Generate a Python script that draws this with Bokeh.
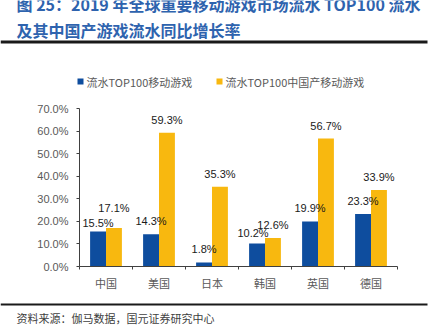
from bokeh.plotting import figure
from bokeh.layouts import column, row
from bokeh.models import (FixedTicker, NumeralTickFormatter, Range1d, Label,
                          BoxAnnotation, ColumnDataSource)
from bokeh.embed import file_html
from bokeh.resources import INLINE
from bokeh.core.properties import value

# ---- data ----
categories = ["中国", "美国", "日本", "韩国", "英国", "德国"]
top100_growth = [0.155, 0.143, 0.018, 0.102, 0.199, 0.233]
china_made_growth = [0.171, 0.593, 0.353, 0.126, 0.567, 0.339]
series_names = ["流水TOP100移动游戏", "流水TOP100中国产移动游戏"]
y_ticks = [0.0, 0.1, 0.2, 0.3, 0.4, 0.5, 0.6, 0.7]
title_lines = ["图 25：2019 年全球重要移动游戏市场流水 TOP100 流水",
               "及其中国产游戏流水同比增长率"]
source_note = "资料来源：伽马数据，国元证券研究中心"

# label offsets (styling)
blue_yoff = [-9, -13, -13, -10, -14, -13]
blue_xoff = [0, 0, 0, -4, 0, 0]
yel_yoff = [-20, -13, -13, -13, -13, -13]

BLUE = "#0E4D9E"
YELLOW = "#F8B80F"
GRAY = "#595959"
TITLE_BLUE = "#2E63AE"
RULE = "#1a1a1a"
CJK = "Noto Sans CJK SC"
LAT = "Liberation Sans"

W = 432
FL, FR = 79, 35
TOP_H, MAIN_H, BOT_H = 98, 198, 31


def plain_fig(h):
    # whole canvas is the frame; data x/y == canvas px (y downwards)
    f = figure(width=W, height=h, output_backend="svg", toolbar_location=None,
               x_range=Range1d(0, W), y_range=Range1d(h, 0),
               x_axis_location=None, y_axis_location=None,
               min_border_left=0, min_border_right=0,
               min_border_top=0, min_border_bottom=0)
    f.outline_line_color = None
    f.grid.visible = False
    f.background_fill_color = "white"
    f.border_fill_color = "white"
    return f


# ---------------- header ----------------
top = plain_fig(TOP_H)
for txt, cy in [(title_lines[0], 3), (title_lines[1], 29)]:
    top.add_layout(Label(x=16, y=cy, text=txt, text_font=CJK,
                         text_font_size="16px", text_font_style="bold",
                         text_color=TITLE_BLUE, text_baseline="middle"))
top.add_layout(BoxAnnotation(left=0, right=427, top=40, bottom=43,
                             fill_color=RULE, fill_alpha=1, line_color=None))
for name, col, lx in [(series_names[0], BLUE, 77), (series_names[1], YELLOW, 216)]:
    top.add_layout(BoxAnnotation(left=lx, right=lx + 6, top=78, bottom=84,
                                 fill_color=col, fill_alpha=1, line_color=None))
    top.add_layout(Label(x=lx + 9, y=81, text=name, text_font=CJK,
                         text_font_size="11px", text_color=GRAY,
                         text_baseline="middle"))

# ---------------- main chart ----------------
p = figure(width=W, height=MAIN_H, output_backend="svg", toolbar_location=None,
           x_range=Range1d(0, len(categories)), y_range=Range1d(0, 0.7),
           min_border_left=FL, min_border_right=FR, min_border_top=10,
           min_border_bottom=30)
p.outline_line_color = None
p.xgrid.visible = False
p.ygrid.visible = False
p.background_fill_color = "white"
p.border_fill_color = "white"

centers = [i + 0.5 for i in range(len(categories))]
bw = 0.30
src = ColumnDataSource(dict(
    xb=[c - bw / 2 for c in centers],
    xy=[c + bw / 2 for c in centers],
    b=top100_growth, yv=china_made_growth,
    bt=[f"{v * 100:.1f}%" for v in top100_growth],
    yt=[f"{v * 100:.1f}%" for v in china_made_growth],
    byo=blue_yoff, bxo=blue_xoff, yyo=yel_yoff,
))

p.vbar(x="xb", top="b", width=bw, bottom=0, source=src,
       fill_color=BLUE, line_color=None)
p.vbar(x="xy", top="yv", width=bw, bottom=0, source=src,
       fill_color=YELLOW, line_color=None)

p.text(x="xb", y="b", text="bt", source=src, x_offset="bxo", y_offset="byo",
       text_align="center", text_baseline="middle", text_font=value(LAT),
       text_font_size="11px", text_color="#1a1a1a")
p.text(x="xy", y="yv", text="yt", source=src, y_offset="yyo",
       text_align="center", text_baseline="middle", text_font=value(LAT),
       text_font_size="11px", text_color="#1a1a1a")

ya = p.yaxis[0]
ya.ticker = FixedTicker(ticks=y_ticks)
ya.formatter = NumeralTickFormatter(format="0.0%")
ya.major_tick_out = 3
ya.major_tick_in = 0
ya.minor_tick_line_color = None
ya.axis_line_color = "#404040"
ya.major_tick_line_color = "#404040"
ya.major_label_text_font = LAT
ya.major_label_text_font_size = "11px"
ya.major_label_text_color = GRAY
ya.major_label_standoff = 8

xa = p.xaxis[0]
xa.ticker = FixedTicker(ticks=centers, minor_ticks=list(range(len(categories) + 1)))
xa.major_label_overrides = {c: cat for c, cat in zip(centers, categories)}
xa.major_tick_line_color = None
xa.minor_tick_line_color = "#404040"
xa.minor_tick_out = 3
xa.minor_tick_in = 0
xa.axis_line_color = "#404040"
xa.major_label_text_font = CJK
xa.major_label_text_font_size = "11px"
xa.major_label_text_color = GRAY
xa.major_label_standoff = 2

# ---------------- footer ----------------
bot = plain_fig(BOT_H)
bot.add_layout(BoxAnnotation(left=0, right=427, top=7, bottom=9,
                             fill_color=RULE, fill_alpha=1, line_color=None))
bot.add_layout(Label(x=16, y=21, text=source_note, text_font=CJK,
                     text_font_size="11px", text_color="#404040",
                     text_baseline="middle"))

layout = column(row(top), row(p), row(bot), spacing=0)
open("out.html", "w").write(file_html(layout, INLINE))
